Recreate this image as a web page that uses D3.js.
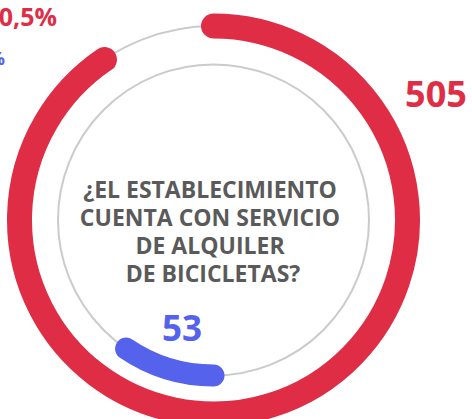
<!doctype html>
<html lang="es">
<head>
<meta charset="utf-8">
<title>Alquiler de bicicletas</title>
<script src="https://cdn.jsdelivr.net/npm/d3@7"></script>
<style>
    body { margin: 0; background: #fff; }
    svg { display: block; }
    text { font-family: "Open Sans", Arial, sans-serif; font-weight: 700; }
</style>
</head>
<body>
<div id="chart"></div>
<script>
    // data
    var categories = ["Sí", "No"]
    var values = [505, 53]
    var percentLabels = ["90,5%", "9,5%"]
    var colors = ["#e02d46", "#5462ec"]
    var questionLines = ["¿EL ESTABLECIMIENTO", "CUENTA CON SERVICIO", "DE ALQUILER", " DE BICICLETAS?"]

    var width = 472, height = 419
    var cx = 213.5, cy = 220
    var rOuter = 194, rInner = 155.5

    var svg = d3.select("#chart").append("svg")
        .attr("width", width)
        .attr("height", height)

    var g = svg.append("g").attr("transform", "translate(" + cx + "," + cy + ")")

    var total = d3.sum(values)
    var angle = d3.scaleLinear().domain([0, total]).range([0, 2 * Math.PI])

    // helper: arc as an open stroke so the ends get round caps
    function arcLine(r, a0, a1) {
        var p = d3.path()
        p.arc(0, 0, r, a0 - Math.PI / 2, a1 - Math.PI / 2, false)
        return p.toString()
    }

    // grey tracks
    g.selectAll("circle.track")
        .data([rOuter, rInner])
        .enter().append("circle")
        .attr("class", "track")
        .attr("r", function (d) { return d })
        .attr("fill", "none")
        .attr("stroke", "#c9cbcd")
        .attr("stroke-width", 2)

    // big ring = first category, starts at 12 o'clock
    // small ring = second category, starts at 6 o'clock
    var rings = [
        { r: rOuter, start: 0, value: values[0], color: colors[0], w: 25 },
        { r: rInner, start: Math.PI, value: values[1], color: colors[1], w: 22 }
    ]

    g.selectAll("path.ring")
        .data(rings)
        .enter().append("path")
        .attr("class", "ring")
        .attr("d", function (d) { return arcLine(d.r, d.start, d.start + angle(d.value)) })
        .attr("fill", "none")
        .attr("stroke", function (d) { return d.color })
        .attr("stroke-width", function (d) { return d.w })
        .attr("stroke-linecap", "round")

    // value labels
    g.append("text")
        .attr("x", 222.5)
        .attr("y", -113)
        .attr("text-anchor", "middle")
        .attr("fill", colors[0])
        .style("font-size", "36px")
        .text(values[0])

    var midBlue = rings[1].start + angle(values[1]) / 2
    g.append("text")
        .attr("x", 114 * Math.sin(midBlue) + 2)
        .attr("y", -114 * Math.cos(midBlue) + 12)
        .attr("text-anchor", "middle")
        .attr("fill", colors[1])
        .style("font-size", "35px")
        .text(values[1])

    // percentage labels (cut off at the left edge like the original)
    svg.append("text")
        .attr("x", 57)
        .attr("y", 26)
        .attr("text-anchor", "end")
        .attr("fill", colors[0])
        .style("font-size", "25px")
        .text(percentLabels[0])

    svg.append("text")
        .attr("x", 5)
        .attr("y", 65)
        .attr("text-anchor", "end")
        .attr("fill", colors[1])
        .style("font-size", "18px")
        .text(percentLabels[1])

    // question in the middle
    g.append("text")
        .attr("text-anchor", "middle")
        .attr("fill", "#5a5a5a")
        .style("font-size", "23px")
        .style("white-space", "pre")
        .selectAll("tspan")
        .data(questionLines)
        .enter().append("tspan")
        .attr("x", -3.5)
        .attr("y", function (d, i) { return -22 + i * 28 })
        .text(function (d) { return d })
</script>
</body>
</html>
